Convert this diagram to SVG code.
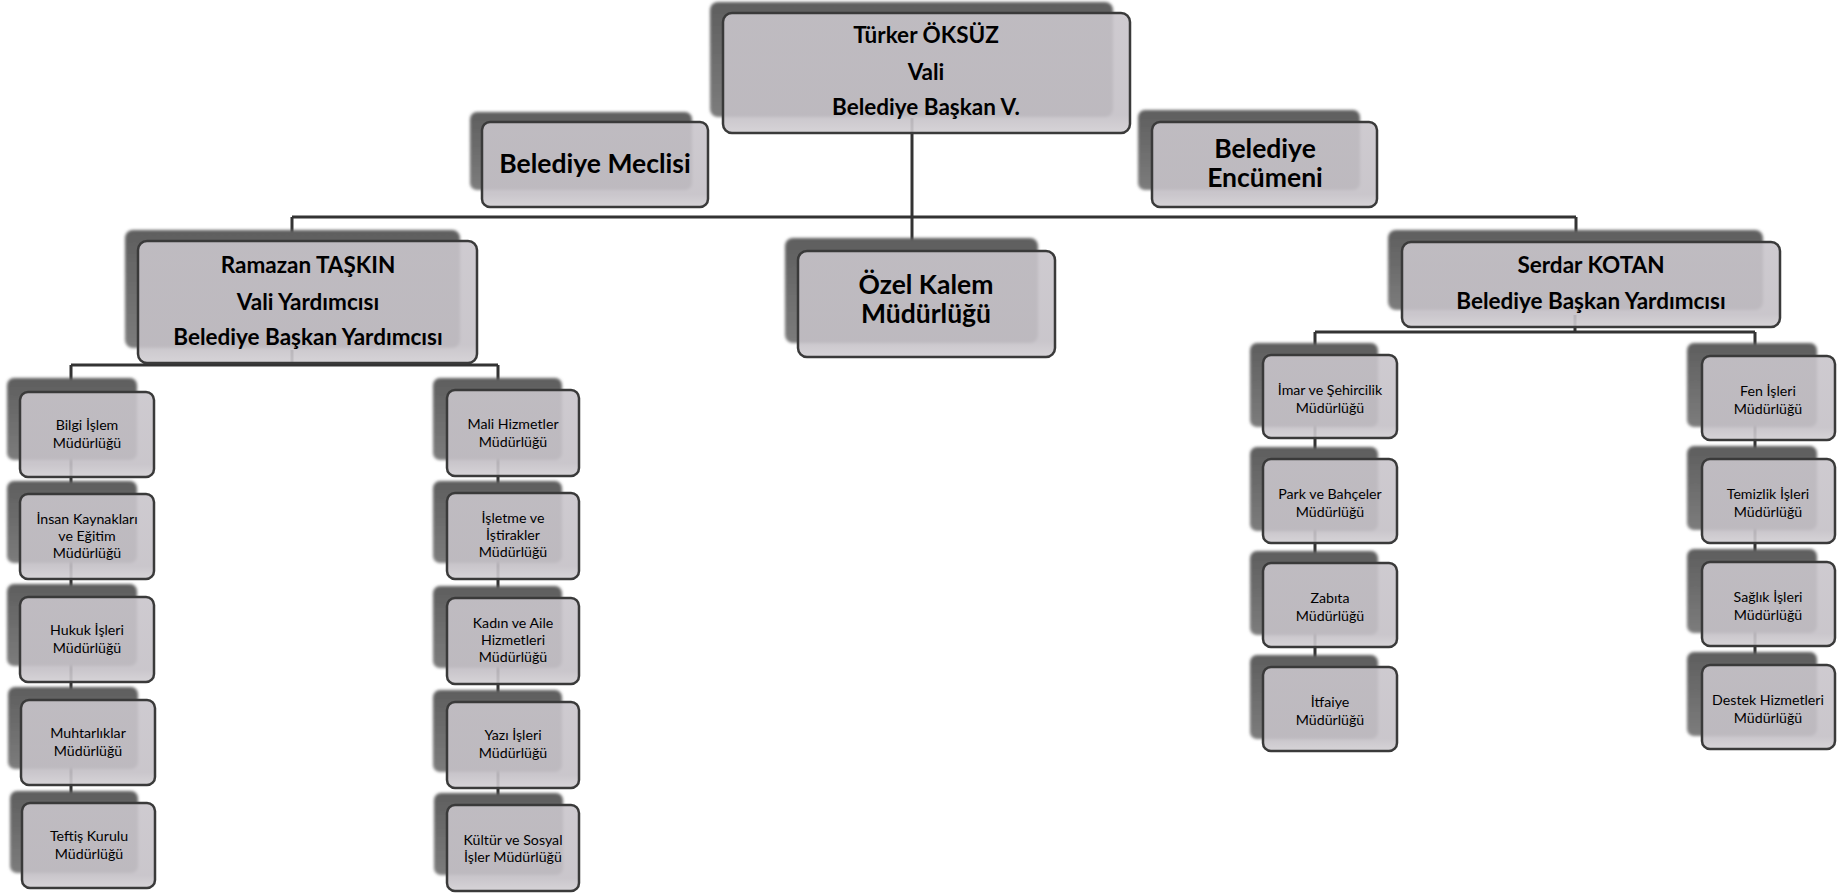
<svg xmlns="http://www.w3.org/2000/svg" width="1847" height="893" viewBox="0 0 1847 893">
<defs>
<linearGradient id="gShadow" x1="0" y1="0" x2="0" y2="1">
<stop offset="0" stop-color="#5e5e5e"/>
<stop offset="1" stop-color="#7c7c7c"/>
</linearGradient>
<linearGradient id="gBox" x1="0" y1="0" x2="0" y2="1">
<stop offset="0" stop-color="#c9c5cb"/>
<stop offset="0.85" stop-color="#c4c0c6"/>
<stop offset="1" stop-color="#d2cfd3"/>
</linearGradient>
<filter id="soft" x="-5%" y="-5%" width="110%" height="110%">
<feGaussianBlur stdDeviation="1.5"/>
</filter>
</defs>
<style>
.sh{fill:url(#gShadow);filter:url(#soft)}
.bx{fill:url(#gBox);fill-opacity:0.9;stroke:#3a3a3a;stroke-width:2.5}
.ln{stroke:#333;stroke-width:3;fill:none}
text{font-family:Lato,"Open Sans","Liberation Sans",sans-serif;fill:#000;text-anchor:middle}
.b1{font-weight:bold;font-size:22.5px}
.b2{font-weight:bold;font-size:26.5px}
.b3{font-weight:bold;font-size:22.5px}
.s{font-size:14.2px}
</style>
<rect width="1847" height="893" fill="#fff"/>
<g id="connectors">
<line class="ln" x1="912" y1="118" x2="912" y2="255"/>
<line class="ln" x1="292" y1="217" x2="1576" y2="217"/>
<line class="ln" x1="292" y1="217" x2="292" y2="245"/>
<line class="ln" x1="1576" y1="217" x2="1576" y2="246"/>
<line class="ln" x1="292" y1="350" x2="292" y2="365"/>
<line class="ln" x1="71" y1="365" x2="498" y2="365"/>
<line class="ln" x1="71" y1="365" x2="71" y2="806"/>
<line class="ln" x1="498" y1="365" x2="498" y2="808"/>
<line class="ln" x1="1575" y1="315" x2="1575" y2="332"/>
<line class="ln" x1="1315" y1="332" x2="1755" y2="332"/>
<line class="ln" x1="1315" y1="332" x2="1315" y2="670"/>
<line class="ln" x1="1755" y1="332" x2="1755" y2="668"/>
</g>
<g id="n-oksuz">
<rect class="sh" x="710" y="2" width="403" height="115" rx="8"/>
<rect class="bx" x="723" y="13" width="407" height="120" rx="9"/>
<text class="b1" x="926" y="43">Türker ÖKSÜZ</text>
<text class="b1" x="926" y="80">Vali</text>
<text class="b1" x="926" y="115">Belediye Başkan V.</text>
</g>
<g id="n-meclis">
<rect class="sh" x="470" y="112" width="222" height="78" rx="7"/>
<rect class="bx" x="482" y="122" width="226" height="85" rx="8"/>
<text class="b2" x="595" y="173">Belediye Meclisi</text>
</g>
<g id="n-encumen">
<rect class="sh" x="1138" y="110" width="222" height="80" rx="7"/>
<rect class="bx" x="1152" y="122" width="225" height="85" rx="8"/>
<text class="b2" x="1265" y="158">Belediye</text>
<text class="b2" x="1265" y="187">Encümeni</text>
</g>
<g id="n-taskin">
<rect class="sh" x="125" y="230" width="335" height="118" rx="8"/>
<rect class="bx" x="138" y="241" width="339" height="122" rx="9"/>
<text class="b3" x="308" y="273">Ramazan TAŞKIN</text>
<text class="b3" x="308" y="310">Vali Yardımcısı</text>
<text class="b3" x="308" y="345">Belediye Başkan Yardımcısı</text>
</g>
<g id="n-ozelkalem">
<rect class="sh" x="785" y="238" width="253" height="105" rx="8"/>
<rect class="bx" x="798" y="251" width="257" height="106" rx="9"/>
<text class="b2" x="926" y="294">Özel Kalem</text>
<text class="b2" x="926" y="323">Müdürlüğü</text>
</g>
<g id="n-kotan">
<rect class="sh" x="1388" y="230" width="375" height="80" rx="8"/>
<rect class="bx" x="1402" y="242" width="378" height="85" rx="9"/>
<text class="b3" x="1591" y="273">Serdar KOTAN</text>
<text class="b3" x="1591" y="309">Belediye Başkan Yardımcısı</text>
</g>
<!-- left column -->
<g id="n-bilgi">
<rect class="sh" x="7" y="378" width="130" height="82" rx="7"/>
<rect class="bx" x="20" y="392" width="134" height="85" rx="8"/>
<text class="s" x="87" y="430">Bilgi İşlem</text>
<text class="s" x="87" y="448">Müdürlüğü</text>
</g>
<g id="n-insan">
<rect class="sh" x="7" y="481" width="130" height="82" rx="7"/>
<rect class="bx" x="20" y="494" width="134" height="85" rx="8"/>
<text class="s" x="87" y="524">İnsan Kaynakları</text>
<text class="s" x="87" y="541">ve Eğitim</text>
<text class="s" x="87" y="558">Müdürlüğü</text>
</g>
<g id="n-hukuk">
<rect class="sh" x="7" y="584" width="130" height="82" rx="7"/>
<rect class="bx" x="20" y="597" width="134" height="85" rx="8"/>
<text class="s" x="87" y="635">Hukuk İşleri</text>
<text class="s" x="87" y="653">Müdürlüğü</text>
</g>
<g id="n-muhtar">
<rect class="sh" x="8" y="687" width="130" height="82" rx="7"/>
<rect class="bx" x="21" y="700" width="134" height="85" rx="8"/>
<text class="s" x="88" y="738">Muhtarlıklar</text>
<text class="s" x="88" y="756">Müdürlüğü</text>
</g>
<g id="n-teftis">
<rect class="sh" x="10" y="791" width="128" height="82" rx="7"/>
<rect class="bx" x="22" y="803" width="133" height="85" rx="8"/>
<text class="s" x="89" y="841">Teftiş Kurulu</text>
<text class="s" x="89" y="859">Müdürlüğü</text>
</g>
<!-- middle column -->
<g id="n-mali">
<rect class="sh" x="433" y="378" width="129" height="82" rx="7"/>
<rect class="bx" x="447" y="390" width="132" height="86" rx="8"/>
<text class="s" x="513" y="429">Mali Hizmetler</text>
<text class="s" x="513" y="447">Müdürlüğü</text>
</g>
<g id="n-isletme">
<rect class="sh" x="433" y="481" width="129" height="82" rx="7"/>
<rect class="bx" x="447" y="493" width="132" height="86" rx="8"/>
<text class="s" x="513" y="523">İşletme ve</text>
<text class="s" x="513" y="540">İştirakler</text>
<text class="s" x="513" y="557">Müdürlüğü</text>
</g>
<g id="n-kadin">
<rect class="sh" x="433" y="586" width="129" height="82" rx="7"/>
<rect class="bx" x="447" y="598" width="132" height="86" rx="8"/>
<text class="s" x="513" y="628">Kadın ve Aile</text>
<text class="s" x="513" y="645">Hizmetleri</text>
<text class="s" x="513" y="662">Müdürlüğü</text>
</g>
<g id="n-yazi">
<rect class="sh" x="433" y="690" width="129" height="82" rx="7"/>
<rect class="bx" x="447" y="702" width="132" height="86" rx="8"/>
<text class="s" x="513" y="740">Yazı İşleri</text>
<text class="s" x="513" y="758">Müdürlüğü</text>
</g>
<g id="n-kultur">
<rect class="sh" x="434" y="793" width="129" height="82" rx="7"/>
<rect class="bx" x="447" y="805" width="132" height="86" rx="8"/>
<text class="s" x="513" y="845">Kültür ve Sosyal</text>
<text class="s" x="513" y="862">İşler Müdürlüğü</text>
</g>
<!-- right column 1 -->
<g id="n-imar">
<rect class="sh" x="1250" y="343" width="128" height="84" rx="7"/>
<rect class="bx" x="1263" y="355" width="134" height="83" rx="8"/>
<text class="s" x="1330" y="395">İmar ve Şehircilik</text>
<text class="s" x="1330" y="413">Müdürlüğü</text>
</g>
<g id="n-park">
<rect class="sh" x="1250" y="447" width="128" height="84" rx="7"/>
<rect class="bx" x="1263" y="459" width="134" height="84" rx="8"/>
<text class="s" x="1330" y="499">Park ve Bahçeler</text>
<text class="s" x="1330" y="517">Müdürlüğü</text>
</g>
<g id="n-zabita">
<rect class="sh" x="1250" y="551" width="128" height="84" rx="7"/>
<rect class="bx" x="1263" y="563" width="134" height="84" rx="8"/>
<text class="s" x="1330" y="603">Zabıta</text>
<text class="s" x="1330" y="621">Müdürlüğü</text>
</g>
<g id="n-itfaiye">
<rect class="sh" x="1250" y="655" width="128" height="84" rx="7"/>
<rect class="bx" x="1263" y="667" width="134" height="84" rx="8"/>
<text class="s" x="1330" y="707">İtfaiye</text>
<text class="s" x="1330" y="725">Müdürlüğü</text>
</g>
<!-- right column 2 -->
<g id="n-fen">
<rect class="sh" x="1687" y="343" width="130" height="84" rx="7"/>
<rect class="bx" x="1702" y="356" width="133" height="84" rx="8"/>
<text class="s" x="1768" y="396">Fen İşleri</text>
<text class="s" x="1768" y="414">Müdürlüğü</text>
</g>
<g id="n-temizlik">
<rect class="sh" x="1687" y="446" width="130" height="84" rx="7"/>
<rect class="bx" x="1702" y="459" width="133" height="84" rx="8"/>
<text class="s" x="1768" y="499">Temizlik İşleri</text>
<text class="s" x="1768" y="517">Müdürlüğü</text>
</g>
<g id="n-saglik">
<rect class="sh" x="1687" y="549" width="130" height="84" rx="7"/>
<rect class="bx" x="1702" y="562" width="133" height="84" rx="8"/>
<text class="s" x="1768" y="602">Sağlık İşleri</text>
<text class="s" x="1768" y="620">Müdürlüğü</text>
</g>
<g id="n-destek">
<rect class="sh" x="1687" y="652" width="130" height="84" rx="7"/>
<rect class="bx" x="1702" y="665" width="133" height="84" rx="8"/>
<text class="s" x="1768" y="705">Destek Hizmetleri</text>
<text class="s" x="1768" y="723">Müdürlüğü</text>
</g>
</svg>
